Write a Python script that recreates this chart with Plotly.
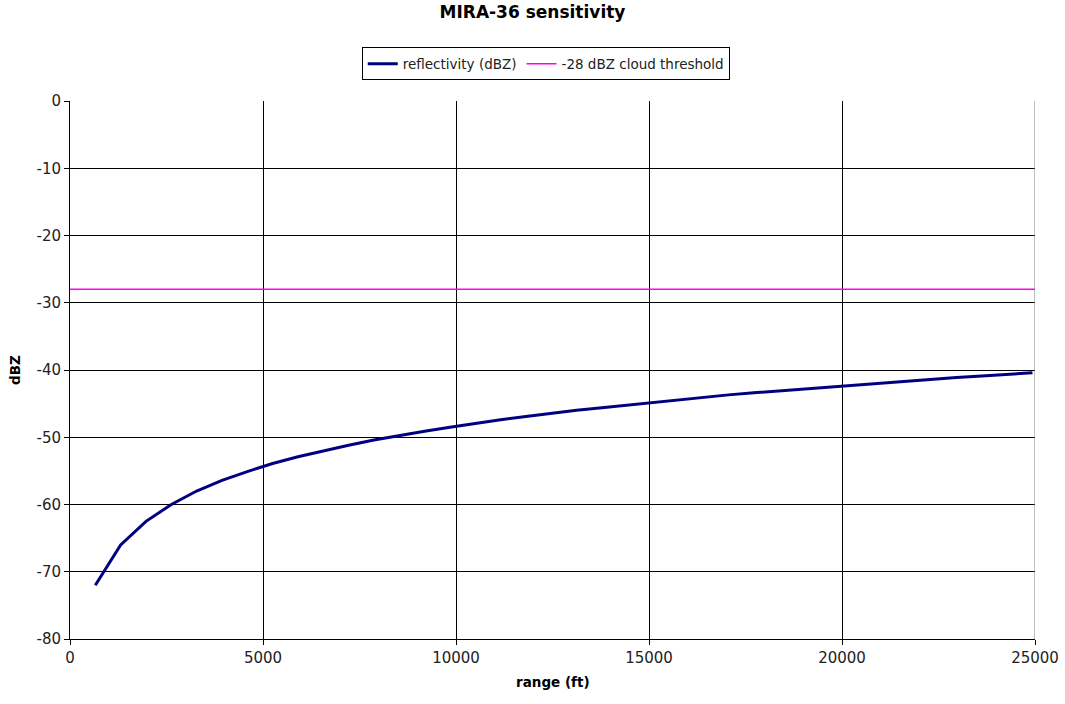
import plotly.graph_objects as go

# range in feet (200 m steps)
range_ft = [656, 1312, 1969, 2625, 3281, 3937, 4593, 5249, 5906, 6562,
            7218, 7874, 8530, 9186, 9843, 10499, 11155, 11811, 12467, 13123,
            13780, 14436, 15092, 15748, 16404, 17060, 17717, 18373, 19029, 19685,
            20341, 20997, 21654, 22310, 22966, 23622, 24278, 24934]
reflectivity_dbz = [-72.0, -66.0, -62.5, -60.0, -58.0, -56.4, -55.1, -53.9, -52.9, -52.0,
                    -51.2, -50.4, -49.7, -49.1, -48.5, -47.9, -47.4, -46.9, -46.4, -46.0,
                    -45.6, -45.2, -44.8, -44.4, -44.0, -43.7, -43.4, -43.1, -42.8, -42.5,
                    -42.2, -41.9, -41.6, -41.4, -41.1, -40.9, -40.6, -40.4]
threshold_x = [0, 25000]
threshold_y = [-28, -28]

x_ticks = [0, 5000, 10000, 15000, 20000, 25000]
x_ticklabels = ["0", "5000", "10000", "15000", "20000", "25000"]
y_ticks = [-80, -70, -60, -50, -40, -30, -20, -10, 0]
y_ticklabels = ["-80", "-70", "-60", "-50", "-40", "-30", "-20", "-10", "0"]

font = "DejaVu Sans, Verdana, sans-serif"

fig = go.Figure()
fig.add_trace(go.Scatter(x=range_ft, y=reflectivity_dbz, mode="lines",
                         name="reflectivity (dBZ)",
                         line=dict(color="#000080", width=3)))
fig.add_trace(go.Scatter(x=threshold_x, y=threshold_y, mode="lines",
                         name="-28 dBZ cloud threshold",
                         line=dict(color="#FF00FF", width=1.5)))

fig.update_layout(
    width=1065, height=704,
    paper_bgcolor="white", plot_bgcolor="white",
    margin=dict(l=70, r=30, t=101, b=65, autoexpand=False),
    font=dict(family=font, size=15, color="#222222"),
    title=dict(text="<b>MIRA-36 sensitivity</b>", x=0.5, xref="container", xanchor="center",
               y=1 - 12 / 704, yref="container", yanchor="middle",
               font=dict(size=17, family=font, color="black")),
    showlegend=True,
    legend=dict(orientation="h", x=0.493, xanchor="center", y=1.0995, yanchor="top",
                bordercolor="black", borderwidth=1, bgcolor="white",
                font=dict(size=13.5, family=font, color="#222222")),
    xaxis=dict(range=[0, 25000], tickvals=x_ticks, ticktext=x_ticklabels,
               showgrid=True, gridcolor="black", gridwidth=1,
               showline=True, linecolor="black", linewidth=1,
               ticks="outside", tickcolor="black", ticklen=5,
               zeroline=False, automargin=False),
    yaxis=dict(range=[-80, 0], tickvals=y_ticks, ticktext=y_ticklabels,
               showgrid=True, gridcolor="black", gridwidth=1,
               showline=True, linecolor="black", linewidth=1,
               ticks="outside", tickcolor="black", ticklen=5,
               zeroline=False, automargin=False),
    annotations=[
        dict(text="<b>range (ft)</b>", xref="paper", yref="paper", x=0.5,
             y=-43 / 538, xanchor="center", yanchor="middle", showarrow=False,
             font=dict(size=13.5, family=font, color="black")),
        dict(text="<b>dBZ</b>", xref="paper", yref="paper", x=-55 / 965,
             y=0.5, xanchor="center", yanchor="middle", showarrow=False,
             textangle=-90, font=dict(size=13.5, family=font, color="black")),
    ],
)
# right border grey like reference
fig.add_shape(type="line", xref="x", yref="paper", x0=25000, x1=25000, y0=0, y1=1,
              line=dict(color="#808080", width=1))

fig.write_html("out.html", config={"displayModeBar": False},
               post_script="document.body.style.margin='0';document.body.style.padding='0';")
